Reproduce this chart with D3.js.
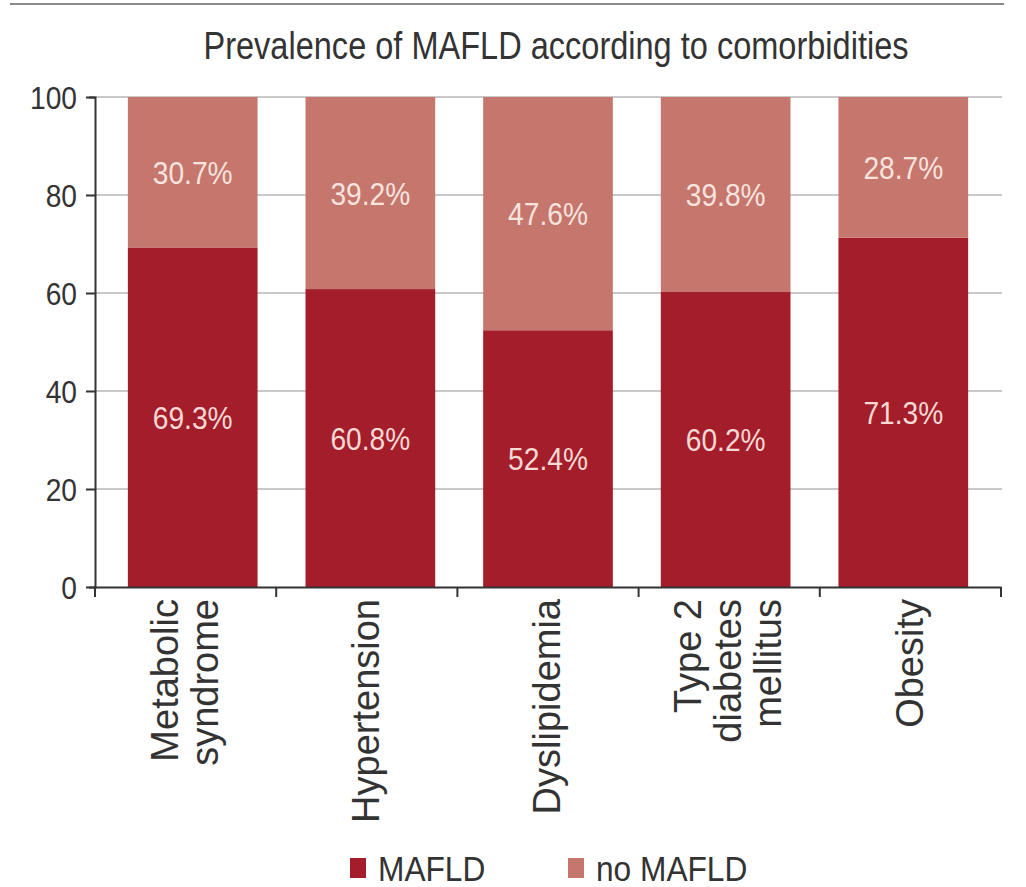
<!DOCTYPE html>
<html>
<head>
<meta charset="utf-8">
<script src="https://cdn.jsdelivr.net/npm/d3@7"></script>
<style>
  html, body { margin: 0; padding: 0; background: #fff; }
  svg { display: block; }
  text { font-family: "Liberation Sans", Arial, Helvetica, sans-serif; }
</style>
</head>
<body>
<svg id="chart" width="1026" height="887"></svg>
<script>
// Comorbidity groups, with the line breaks used for the rotated axis labels
const categories = ["Metabolic syndrome", "Hypertension", "Dyslipidemia", "Type 2 diabetes mellitus", "Obesity"];
const categoryLines = [["Metabolic", "syndrome"], ["Hypertension"], ["Dyslipidemia"], ["Type 2", "diabetes", "mellitus"], ["Obesity"]];

// Share of patients (%) with and without MAFLD in each group
const series = ["MAFLD", "no MAFLD"];
const mafld = [69.3, 60.8, 52.4, 60.2, 71.3];
const noMafld = [30.7, 39.2, 47.6, 39.8, 28.7];

const yTicks = [0, 20, 40, 60, 80, 100];
const title = "Prevalence of MAFLD according to comorbidities";

const colors = { "MAFLD": "#a41d2b", "no MAFLD": "#c5766d" };
const ink = "#333";

const svg = d3.select("#chart");

// Rule across the top of the figure
svg.append("line")
  .attr("x1", 10).attr("x2", 1004).attr("y1", 4).attr("y2", 4)
  .attr("stroke", "#8a8a8a").attr("stroke-width", 2);

// Title (condensed to its set width)
svg.append("text")
  .attr("x", 556).attr("y", 59)
  .attr("text-anchor", "middle")
  .attr("font-size", 38)
  .attr("textLength", 705)
  .attr("lengthAdjust", "spacingAndGlyphs")
  .attr("fill", ink)
  .text(title);

const plot = { left: 95, right: 1001, top: 97, bottom: 587 };

const y = d3.scaleLinear().domain([0, 100]).range([plot.bottom, plot.top]);

// Equal slots along the axis carry the category labels and boundary ticks
const slot = d3.scaleBand().domain(categories).range([plot.left, plot.right]).padding(0);
// The bars themselves sit inside those slots
const x = d3.scaleBand().domain(categories).range([plot.left, plot.right])
  .paddingInner(0.27).paddingOuter(0.185);

// Horizontal grid lines behind the bars
svg.append("g")
  .selectAll("line")
  .data(yTicks.filter(d => d > 0))
  .join("line")
  .attr("x1", plot.left).attr("x2", plot.right + 1)
  .attr("y1", d => y(d)).attr("y2", d => y(d))
  .attr("stroke", "#c9c9c9").attr("stroke-width", 2);

// Stacked bars
const table = categories.map((c, i) => ({ category: c, "MAFLD": mafld[i], "no MAFLD": noMafld[i] }));
const stacked = d3.stack().keys(series)(table);

const layers = svg.append("g").selectAll("g")
  .data(stacked)
  .join("g")
  .attr("fill", d => colors[d.key]);

layers.selectAll("rect")
  .data(d => d)
  .join("rect")
  .attr("x", d => x(d.data.category))
  .attr("width", x.bandwidth())
  .attr("y", d => y(d[1]))
  .attr("height", d => y(d[0]) - y(d[1]));

// Percentage labels in the middle of each segment
layers.selectAll("text")
  .data(d => d.map(v => ({ v, key: d.key })))
  .join("text")
  .attr("transform", d => `translate(${x(d.v.data.category) + x.bandwidth() / 2},${y((d.v[0] + d.v[1]) / 2)}) scale(0.88,1)`)
  .attr("text-anchor", "middle")
  .attr("dy", "0.36em")
  .attr("font-size", 32)
  .attr("fill", d => d.key === "MAFLD" ? "#f7d9d5" : "#f8e4df")
  .text(d => d3.format(".1f")(d.v.data[d.key]) + "%");

// Y axis
const yAxis = svg.append("g")
  .attr("transform", `translate(${plot.left},0)`)
  .call(d3.axisLeft(y).tickValues(yTicks).tickSize(9).tickSizeOuter(6));
yAxis.select(".domain").attr("stroke", ink).attr("stroke-width", 2);
yAxis.selectAll(".tick line").attr("stroke", ink).attr("stroke-width", 2);
yAxis.selectAll(".tick text")
  .attr("x", null)
  .attr("dy", "0.36em")
  .attr("transform", "translate(-18,0) scale(0.88,1)")
  .attr("font-size", 32)
  .attr("font-family", null)
  .attr("fill", ink);

// X axis: baseline, boundary ticks and rotated category labels
const xAxis = svg.append("g")
  .attr("transform", `translate(0,${plot.bottom})`)
  .call(d3.axisBottom(slot).tickSize(0).tickSizeOuter(0));
xAxis.select(".domain").attr("stroke", ink).attr("stroke-width", 2);

const bounds = [slot(categories[0])].concat(categories.map(c => slot(c) + slot.bandwidth()));
xAxis.selectAll(".bound")
  .data(bounds)
  .join("line")
  .attr("class", "bound")
  .attr("x1", d => d).attr("x2", d => d)
  .attr("y1", 0).attr("y2", 10)
  .attr("stroke", ink).attr("stroke-width", 2);

const lineGap = 40;
xAxis.selectAll(".tick text").remove();
xAxis.selectAll(".tick").each(function (c) {
  const lines = categoryLines[categories.indexOf(c)];
  const t = d3.select(this).append("text")
    .attr("transform", "translate(0,12) rotate(-90)")
    .attr("text-anchor", "end")
    .attr("font-size", 38)
    .attr("fill", ink);
  lines.forEach((ln, i) => {
    t.append("tspan")
      .attr("x", 0)
      .attr("y", (i - (lines.length - 1) / 2) * lineGap)
      .attr("dy", "0.32em")
      .text(ln);
  });
});

// Legend
const legendX = [350, 568];
const legend = svg.append("g").selectAll("g")
  .data(series)
  .join("g")
  .attr("transform", (d, i) => `translate(${legendX[i]},858)`);
legend.append("rect")
  .attr("width", 16).attr("height", 20)
  .attr("fill", d => colors[d]);
legend.append("text")
  .attr("transform", "translate(28,23) scale(0.88,1)")
  .attr("font-size", 36)
  .attr("fill", ink)
  .text(d => d);
</script>
</body>
</html>
